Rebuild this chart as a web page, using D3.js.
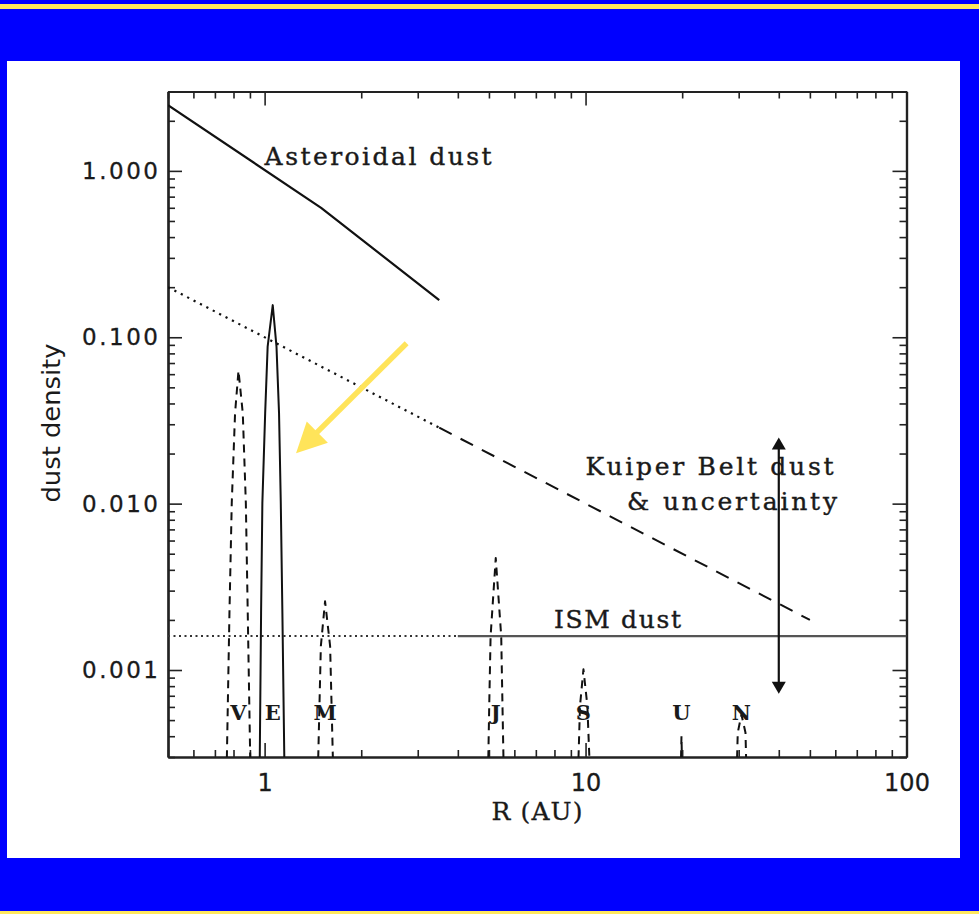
<!DOCTYPE html>
<html><head><meta charset="utf-8">
<script src="https://cdn.jsdelivr.net/npm/d3@7"></script>
<style>html,body{margin:0;padding:0;background:#0000ff;} svg{display:block}</style>
</head><body>
<svg id="chart" width="979" height="914"></svg>
<script>
// Dust density vs heliocentric distance R (AU)
const asteroidalDust = [[0.5, 2.48], [1.5, 0.6], [3.5, 0.167]];
const kuiperInner = [[0.5, 0.2], [3.5, 0.0286]];
const kuiperOuter = [[3.5, 0.0286], [50, 0.002]];
const ismInner = [[0.5, 0.0016], [4, 0.0016]];
const ismOuter = [[4, 0.0016], [100, 0.0016]];

// Resonant dust rings near each planet orbit
const venusRing = [[0.760, 2e-4], [0.777, 0.0022], [0.790, 0.0101], [0.809, 0.035], [0.829, 0.063],
                   [0.855, 0.035], [0.874, 0.0101], [0.886, 0.0022], [0.905, 2e-4]];
const earthRing = [[0.964, 2e-4], [0.975, 0.0022], [0.984, 0.0101], [1.004, 0.035], [1.022, 0.0878], [1.06, 0.156],
                   [1.089, 0.0878], [1.109, 0.035], [1.123, 0.0101], [1.136, 0.0022], [1.155, 2e-4]];
const marsRing = [[1.462, 2e-4], [1.497, 0.00139], [1.543, 0.00259], [1.600, 0.00139], [1.640, 2e-4]];
const jupiterRing = [[4.96, 2e-4], [5.01, 6.1e-4], [5.06, 0.0016], [5.25, 0.00471], [5.46, 0.0016], [5.51, 6.1e-4], [5.57, 2e-4]];
const saturnRing = [[9.45, 2e-4], [9.61, 6.1e-4], [9.85, 0.00101], [10.13, 6.1e-4], [10.36, 2e-4]];
const uranusRing = [[19.75, 2e-4], [19.9, 4e-4], [20.05, 2e-4]];
const neptuneRing = [[29.5, 2e-4], [29.8, 4.2e-4], [30.6, 5.4e-4], [31.5, 4.2e-4], [31.8, 2e-4]];

const planetLabels = ["V", "E", "M", "J", "S", "U", "N"];
const planetLabelR = [0.829, 1.06, 1.543, 5.25, 9.85, 19.9, 30.6];
const planetLabelDensity = 5e-4;

const xTickValues = [1, 10, 100];
const yTickValues = [0.001, 0.01, 0.1, 1];

const annotationText = ["Asteroidal dust", "Kuiper Belt dust", "& uncertainty", "ISM dust"];
const annotationR = [1.0, 10.0, 13.47, 7.97];
const annotationDensity = [1.08, 0.0149, 0.0091, 0.00179];

const uncertaintyRange = [[40, 0.025], [40, 0.00072]];
const pointerArrow = [[2.77, 0.092], [1.253, 0.0201]];

// ---- layout ----
const W = 979, H = 914;
const plot = {left: 168, right: 906.5, top: 91.5, bottom: 757};
const svg = d3.select("#chart");

svg.append("rect").attr("width", W).attr("height", H).attr("fill", "#0000ff");
svg.append("rect").attr("x", 0).attr("y", 4).attr("width", W).attr("height", 5).attr("fill", "#ffe85e");
svg.append("rect").attr("x", 0).attr("y", 911).attr("width", W).attr("height", 3).attr("fill", "#ffe85e");
svg.append("rect").attr("x", 7).attr("y", 61).attr("width", 953).attr("height", 797).attr("fill", "#ffffff");

const x = d3.scaleLog().domain([0.5, 100]).range([plot.left, plot.right]);
const y = d3.scaleLog().domain([3e-4, 3]).range([plot.bottom, plot.top]);

svg.append("defs").append("clipPath").attr("id", "plotClip")
  .append("rect").attr("x", plot.left).attr("y", plot.top)
  .attr("width", plot.right - plot.left).attr("height", plot.bottom - plot.top);

// ---- axes (ticks point inward on all four sides) ----
const xMinor = x.ticks().filter(v => !xTickValues.includes(v));
const yMinor = y.ticks().filter(v => !yTickValues.some(t => Math.abs(t - v) / t < 1e-6));
const axisColor = "#222";
const textColor = "#1a1a1a";

function styleAxis(g) {
  g.selectAll("path.domain").attr("stroke", axisColor).attr("stroke-width", 2.2);
  g.selectAll(".tick line").attr("stroke", axisColor).attr("stroke-width", 1.6);
}

const gxb = svg.append("g").attr("transform", `translate(0,${plot.bottom})`)
  .call(d3.axisBottom(x).tickValues(xTickValues).tickSize(-14).tickSizeOuter(0).tickPadding(17).tickFormat(d3.format("d")));
svg.append("g").attr("transform", `translate(0,${plot.bottom})`)
  .call(d3.axisBottom(x).tickValues(xMinor).tickSize(-7).tickSizeOuter(0).tickFormat(""))
  .call(styleAxis);
const gxt = svg.append("g").attr("transform", `translate(0,${plot.top})`)
  .call(d3.axisTop(x).tickValues(xTickValues).tickSize(-14).tickSizeOuter(0).tickFormat(""));
svg.append("g").attr("transform", `translate(0,${plot.top})`)
  .call(d3.axisTop(x).tickValues(xMinor).tickSize(-7).tickSizeOuter(0).tickFormat(""))
  .call(styleAxis);
const gyl = svg.append("g").attr("transform", `translate(${plot.left},0)`)
  .call(d3.axisLeft(y).tickValues(yTickValues).tickSize(-14).tickSizeOuter(0).tickPadding(10).tickFormat(d3.format(".3f")));
svg.append("g").attr("transform", `translate(${plot.left},0)`)
  .call(d3.axisLeft(y).tickValues(yMinor).tickSize(-7).tickSizeOuter(0).tickFormat(""))
  .call(styleAxis);
const gyr = svg.append("g").attr("transform", `translate(${plot.right},0)`)
  .call(d3.axisRight(y).tickValues(yTickValues).tickSize(-14).tickSizeOuter(0).tickFormat(""));
svg.append("g").attr("transform", `translate(${plot.right},0)`)
  .call(d3.axisRight(y).tickValues(yMinor).tickSize(-7).tickSizeOuter(0).tickFormat(""))
  .call(styleAxis);
[gxb, gxt, gyl, gyr].forEach(styleAxis);

gxb.selectAll(".tick text").attr("font-family", "DejaVu Sans").attr("font-size", 24).attr("fill", textColor)
  .attr("stroke", textColor).attr("stroke-width", 0.3);
gyl.selectAll(".tick text").attr("font-family", "DejaVu Sans").attr("font-size", 23).attr("fill", textColor)
  .attr("stroke", textColor).attr("stroke-width", 0.3)
  .attr("textLength", 76).attr("lengthAdjust", "spacing");

svg.append("text").attr("x", 537).attr("y", 820).attr("text-anchor", "middle")
  .attr("font-family", "DejaVu Serif").attr("font-size", 25).attr("fill", textColor)
  .attr("stroke", textColor).attr("stroke-width", 0.3)
  .attr("textLength", 91).attr("lengthAdjust", "spacing").text("R (AU)");
svg.append("text").attr("transform", "translate(60,423) rotate(-90)").attr("text-anchor", "middle")
  .attr("font-family", "DejaVu Sans").attr("font-size", 25).attr("fill", textColor)
  .attr("textLength", 159).attr("lengthAdjust", "spacingAndGlyphs").text("dust density");

// ---- curves ----
const plotArea = svg.append("g").attr("clip-path", "url(#plotClip)");
const line = d3.line().x(d => x(d[0])).y(d => y(d[1]));

function draw(data, dash, width, color) {
  plotArea.append("path").datum(data).attr("d", line).attr("fill", "none")
    .attr("stroke", color || "#111").attr("stroke-width", width || 2)
    .attr("stroke-linejoin", "round")
    .attr("stroke-dasharray", dash || null);
}

draw(asteroidalDust, null, 2.2);
draw(kuiperInner, "2.2,5", 2.2);
draw(kuiperOuter, "14,10", 2);
draw(ismInner, "2,3.5", 2, "#333");
draw(ismOuter, null, 2.2, "#555");

const ringDash = "8,6";
draw(venusRing, ringDash, 2);
draw(earthRing, null, 2);
draw(marsRing, ringDash, 2);
draw(jupiterRing, ringDash, 2);
draw(saturnRing, ringDash, 2);
draw(uranusRing, ringDash, 2);
draw(neptuneRing, ringDash, 2);

// planet labels
svg.append("g").selectAll("text").data(planetLabels).join("text")
  .attr("x", (d, i) => x(planetLabelR[i])).attr("y", y(planetLabelDensity))
  .attr("text-anchor", "middle").attr("font-family", "DejaVu Serif").attr("font-size", 21)
  .attr("font-weight", "bold").attr("fill", textColor).text(d => d);

// annotations
const annotationWidth = [227, 248, 210, 127];
svg.append("g").selectAll("text").data(annotationText).join("text")
  .attr("x", (d, i) => x(annotationR[i])).attr("y", (d, i) => y(annotationDensity[i]))
  .attr("font-family", "DejaVu Serif").attr("font-size", 25).attr("fill", textColor)
  .attr("stroke", textColor).attr("stroke-width", 0.4)
  .attr("textLength", (d, i) => annotationWidth[i]).attr("lengthAdjust", "spacing")
  .text(d => d);

// arrows
function headBase(tip, from, len) {
  const dx = tip[0] - from[0], dy = tip[1] - from[1];
  const L = Math.hypot(dx, dy);
  return [tip[0] - dx / L * len, tip[1] - dy / L * len, dx / L, dy / L];
}
function drawArrowHead(tip, from, len, half, color) {
  const [bx, by, ux, uy] = headBase(tip, from, len);
  svg.append("path")
    .attr("d", `M${tip[0]},${tip[1]}L${bx - uy * half},${by + ux * half}L${bx + uy * half},${by - ux * half}Z`)
    .attr("fill", color);
}

// uncertainty double arrow
const uA = [x(uncertaintyRange[0][0]), y(uncertaintyRange[0][1])];
const uB = [x(uncertaintyRange[1][0]), y(uncertaintyRange[1][1])];
const ua = headBase(uA, uB, 10), ub = headBase(uB, uA, 10);
svg.append("line").attr("x1", ua[0]).attr("y1", ua[1]).attr("x2", ub[0]).attr("y2", ub[1])
  .attr("stroke", "#111").attr("stroke-width", 2.2);
drawArrowHead(uA, uB, 12, 7, "#111");
drawArrowHead(uB, uA, 12, 7, "#111");

// yellow pointer toward the Earth ring
const pS = [x(pointerArrow[0][0]), y(pointerArrow[0][1])];
const pT = [x(pointerArrow[1][0]), y(pointerArrow[1][1])];
const pb = headBase(pT, pS, 26);
svg.append("line").attr("x1", pS[0]).attr("y1", pS[1]).attr("x2", pb[0]).attr("y2", pb[1])
  .attr("stroke", "#ffe45a").attr("stroke-width", 5.5);
drawArrowHead(pT, pS, 30, 15, "#ffe45a");
</script>
</body></html>
